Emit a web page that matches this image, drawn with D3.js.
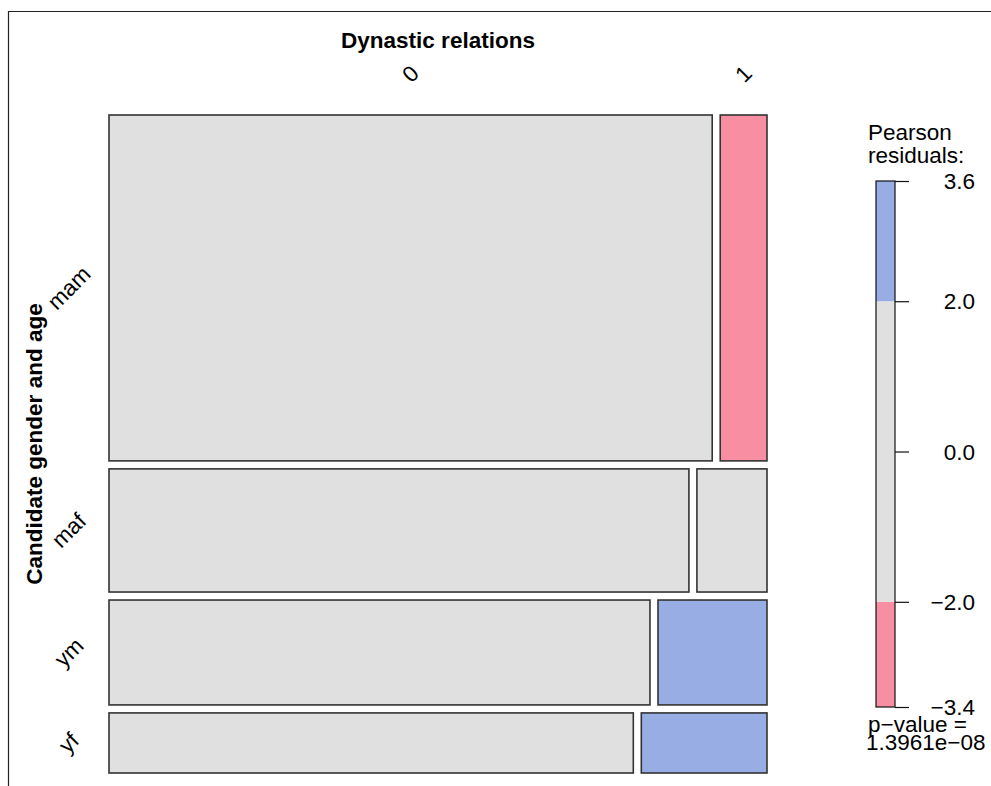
<!DOCTYPE html>
<html>
<head>
<meta charset="utf-8">
<script src="https://cdn.jsdelivr.net/npm/d3@7"></script>
<style>
  html, body { margin: 0; padding: 0; background: #fff; }
  svg { display: block; }
  text { font-family: "Liberation Sans", Arial, Helvetica, sans-serif; fill: #000; }
</style>
</head>
<body>
<svg id="chart" width="991" height="786"></svg>
<script>
// Candidate gender/age groups (rows) crossed with dynastic relations (columns)
const rowLevels = ["mam", "maf", "ym", "yf"];
const colLevels = ["0", "1"];
// observed counts, one array per dynastic-relations level
const countsNoDynasty = [967, 331, 263, 146];
const countsDynasty   = [75, 40, 53, 35];

// residual shading legend
const legendBreaks = [-3.4, -2.0, 2.0, 3.6];
const legendTicks  = [3.6, 2.0, 0.0, -2.0, -3.4];
const pValueText   = "1.3961e\u221208";

const rowTitle = "Candidate gender and age";
const colTitle = "Dynastic relations";

const colours = { pos: "#97ade3", neg: "#f78ea2", none: "#e0e0e0" };
const labelSize = "22.5px";

const svg = d3.select("#chart");

// frame
svg.append("path")
  .attr("d", "M8.5,786 V11.5 H991")
  .attr("fill", "none").attr("stroke", "#222").attr("stroke-width", 1.2);

// ---- compute table, expected values and Pearson residuals ----
const table = rowLevels.map((r, i) => [countsNoDynasty[i], countsDynasty[i]]);
const rowTot = table.map(r => d3.sum(r));
const colTot = colLevels.map((c, j) => d3.sum(table, r => r[j]));
const N = d3.sum(rowTot);
const resid = table.map((r, i) => r.map((o, j) => {
  const e = rowTot[i] * colTot[j] / N;
  return (o - e) / Math.sqrt(e);
}));
const fillFor = v => v > 2 ? colours.pos : (v < -2 ? colours.neg : colours.none);

// ---- mosaic geometry ----
const mLeft = 109, mRight = 767, mTop = 115, mBottom = 773, gap = 8;
const usableW = (mRight - mLeft) - gap * (colLevels.length - 1);
const usableH = (mBottom - mTop) - gap * (rowLevels.length - 1);
const hScale = d3.scaleLinear().domain([0, N]).range([0, usableH]);

const cells = [];
let yCursor = mTop;
table.forEach((row, i) => {
  const h = hScale(rowTot[i]);
  const wScale = d3.scaleLinear().domain([0, rowTot[i]]).range([0, usableW]);
  let xCursor = mLeft;
  row.forEach((v, j) => {
    const w = wScale(v);
    cells.push({ i, j, x: xCursor, y: yCursor, w, h, r: resid[i][j] });
    xCursor += w + gap;
  });
  yCursor += h + gap;
});

svg.append("g").selectAll("rect").data(cells).join("rect")
  .attr("x", d => d.x).attr("y", d => d.y)
  .attr("width", d => d.w).attr("height", d => d.h)
  .attr("fill", d => fillFor(d.r))
  .attr("stroke", "#333").attr("stroke-width", 1.6);

// ---- column labels (positioned over the first row's cells) ----
svg.append("text")
  .attr("x", (mLeft + mRight) / 2).attr("y", 48)
  .attr("text-anchor", "middle")
  .style("font-weight", "bold").style("font-size", "22.5px")
  .text(colTitle);

cells.filter(d => d.i === 0).forEach(d => {
  const cx = d.x + d.w / 2, cy = 74;
  svg.append("text")
    .attr("transform", `translate(${cx},${cy}) rotate(-45)`)
    .attr("text-anchor", "middle").attr("dominant-baseline", "central")
    .style("font-size", labelSize)
    .text(colLevels[d.j]);
});

// ---- row labels ----
svg.append("text")
  .attr("transform", `translate(42,${(mTop + mBottom) / 2}) rotate(-90)`)
  .attr("text-anchor", "middle")
  .style("font-weight", "bold").style("font-size", "22.5px")
  .text(rowTitle);

cells.filter(d => d.j === 0).forEach(d => {
  const cy = d.y + d.h / 2;
  svg.append("text")
    .attr("transform", `translate(69,${cy}) rotate(-45)`)
    .attr("text-anchor", "middle").attr("dominant-baseline", "central")
    .style("font-size", labelSize)
    .text(rowLevels[d.i]);
});

// ---- residual legend ----
const lgX = 876, lgW = 19;
const lgScale = d3.scaleLinear().domain([legendBreaks[0], legendBreaks[legendBreaks.length - 1]]).range([707, 181]);
const segs = d3.pairs(legendBreaks).map(([a, b]) => ({ a, b, mid: (a + b) / 2 }));
svg.append("g").selectAll("rect").data(segs).join("rect")
  .attr("x", lgX).attr("width", lgW)
  .attr("y", d => lgScale(d.b)).attr("height", d => lgScale(d.a) - lgScale(d.b))
  .attr("fill", d => fillFor(d.mid));
svg.append("rect")
  .attr("x", lgX).attr("width", lgW)
  .attr("y", lgScale.range()[1]).attr("height", lgScale.range()[0] - lgScale.range()[1])
  .attr("fill", "none").attr("stroke", "#111").attr("stroke-width", 1.2);

const axis = d3.axisRight(lgScale)
  .tickValues(legendTicks).tickSize(14).tickPadding(0)
  .tickFormat(d => d3.format(".1f")(d).replace("-", "\u2212"));
const ax = svg.append("g").attr("transform", `translate(${lgX + lgW},0)`).call(axis);
ax.select(".domain").remove();
ax.selectAll(".tick line").attr("stroke", "#111").attr("stroke-width", 1.2);
ax.selectAll(".tick text")
  .attr("x", 975 - (lgX + lgW)).attr("text-anchor", "end")
  .attr("dy", "0.34em")
  .style("font-family", "'Liberation Sans', Arial, sans-serif")
  .style("font-size", labelSize).attr("fill", "#000");

svg.append("text").attr("x", 868).attr("y", 140).style("font-size", labelSize).text("Pearson");
svg.append("text").attr("x", 868).attr("y", 163).style("font-size", labelSize).text("residuals:");
svg.append("text").attr("x", 868).attr("y", 732).style("font-size", labelSize).text("p\u2212value =");
svg.append("text").attr("x", 866).attr("y", 750).style("font-size", labelSize).text(pValueText);
</script>
</body>
</html>
